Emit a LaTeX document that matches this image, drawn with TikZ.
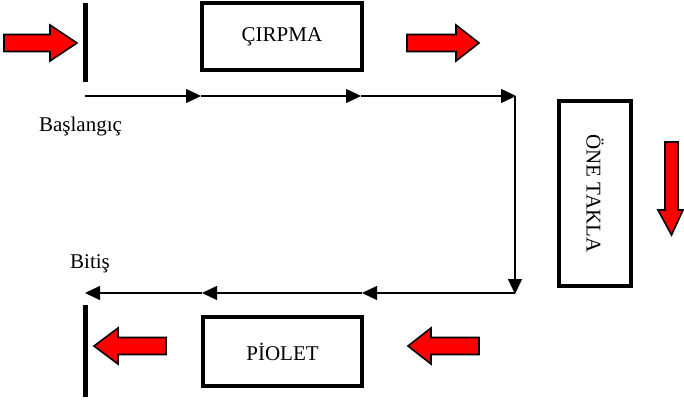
\documentclass[tikz,border=0pt]{standalone}
\usepackage{fontspec}
\setmainfont{Liberation Serif}
\usetikzlibrary{arrows.meta}
\begin{document}
\begin{tikzpicture}[x=1pt,y=-1pt,
  every node/.style={font=\fontsize{21}{25}\selectfont, inner sep=0pt},
  stagebox/.style={draw=black, line width=4pt, fill=white},
  bar/.style={fill=black, minimum width=5pt},
  flow/.style={line width=1.4pt, -{Triangle[length=15pt,width=14pt]}},
  blockarrow/.style={fill=red, draw=black, line width=1.6pt, line join=miter}]
\useasboundingbox (0,0) rectangle (684,403);
% boxes
\node[stagebox, minimum width=160pt, minimum height=67pt] (cirpma) at (282,37) {ÇIRPMA};
\node[stagebox, minimum width=71.5pt, minimum height=185pt] (takla) at (595,193.5) {};
\node[rotate=-90] (taklatext) at (takla.center) {ÖNE TAKLA};
\node[stagebox, minimum width=159pt, minimum height=69pt] (piolet) at (282.5,351.5) {PİOLET};
% bars
\node[bar, minimum height=79pt] (startbar) at (85,42.5) {};
\node[bar, minimum height=92pt] (endbar) at (85,351) {};
% labels
\node[anchor=base] (baslangic) at (80.5,132) {Başlangıç};
\node[anchor=base] (bitis) at (90,268) {Bitiş};
% flow path
\coordinate (c1) at (85,96);
\coordinate (c2) at (201,96);
\coordinate (c3) at (361,96);
\coordinate (c4) at (516,96);
\coordinate (c4b) at (515,96);
\coordinate (c5) at (515,294);
\coordinate (c5b) at (515,293);
\coordinate (c6) at (362,293);
\coordinate (c7) at (202,293);
\coordinate (c8) at (85,293);
\draw[flow] (c1) -- (c2);
\draw[flow] (c2) -- (c3);
\draw[flow] (c3) -- (c4);
\draw[flow] (c4b) -- (c5);
\draw[flow] (c5b) -- (c6);
\draw[flow] (c6) -- (c7);
\draw[flow] (c7) -- (c8);
% red block arrows
\draw[blockarrow] (4,34.5) -- (50,34.5) -- (50,25) -- (77,43) -- (50,61) -- (50,51.5) -- (4,51.5) -- cycle;
\draw[blockarrow] (407,34.5) -- (456,34.5) -- (456,25) -- (479,43) -- (456,61) -- (456,51.5) -- (407,51.5) -- cycle;
\draw[blockarrow] (166,337.5) -- (118,337.5) -- (118,328) -- (94,346) -- (118,364) -- (118,354.5) -- (166,354.5) -- cycle;
\draw[blockarrow] (479,337.5) -- (431,337.5) -- (431,328) -- (408,346) -- (431,364) -- (431,354.5) -- (479,354.5) -- cycle;
\draw[blockarrow] (665,142) -- (665,210) -- (658,210) -- (671.5,235) -- (683,210) -- (678,210) -- (678,142) -- cycle;
\end{tikzpicture}
\end{document}
